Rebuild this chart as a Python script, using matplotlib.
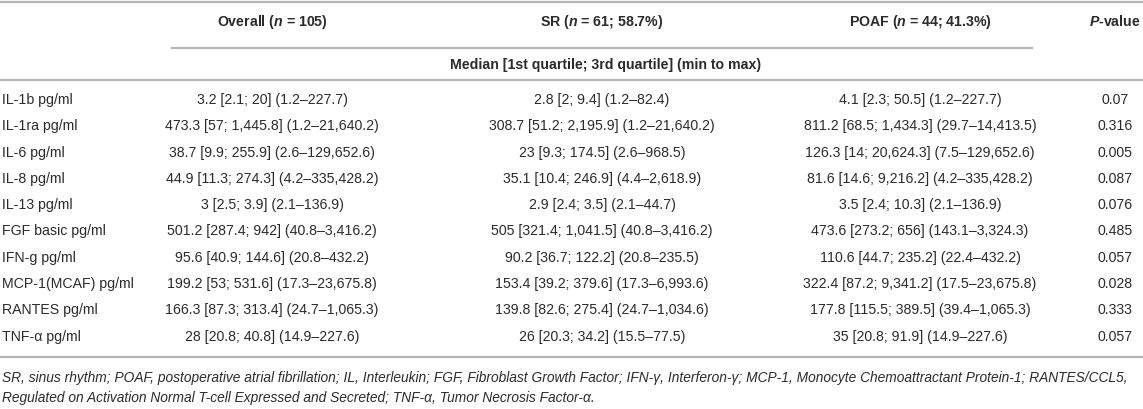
import matplotlib
matplotlib.use("Agg")
import matplotlib.pyplot as plt
from matplotlib.lines import Line2D

plt.rcParams['font.family'] = ['Liberation Sans', 'DejaVu Sans']
plt.rcParams['mathtext.fontset'] = 'custom'
plt.rcParams['mathtext.bfit'] = 'Liberation Sans:italic:bold'

markers = ["IL-1b pg/ml", "IL-1ra pg/ml", "IL-6 pg/ml", "IL-8 pg/ml", "IL-13 pg/ml",
           "FGF basic pg/ml", "IFN-g pg/ml", "MCP-1(MCAF) pg/ml", "RANTES pg/ml", "TNF-\u03b1 pg/ml"]
overall = ["3.2 [2.1; 20] (1.2\u2013227.7)",
           "473.3 [57; 1,445.8] (1.2\u201321,640.2)",
           "38.7 [9.9; 255.9] (2.6\u2013129,652.6)",
           "44.9 [11.3; 274.3] (4.2\u2013335,428.2)",
           "3 [2.5; 3.9] (2.1\u2013136.9)",
           "501.2 [287.4; 942] (40.8\u20133,416.2)",
           "95.6 [40.9; 144.6] (20.8\u2013432.2)",
           "199.2 [53; 531.6] (17.3\u201323,675.8)",
           "166.3 [87.3; 313.4] (24.7\u20131,065.3)",
           "28 [20.8; 40.8] (14.9\u2013227.6)"]
sr = ["2.8 [2; 9.4] (1.2\u201382.4)",
      "308.7 [51.2; 2,195.9] (1.2\u201321,640.2)",
      "23 [9.3; 174.5] (2.6\u2013968.5)",
      "35.1 [10.4; 246.9] (4.4\u20132,618.9)",
      "2.9 [2.4; 3.5] (2.1\u201344.7)",
      "505 [321.4; 1,041.5] (40.8\u20133,416.2)",
      "90.2 [36.7; 122.2] (20.8\u2013235.5)",
      "153.4 [39.2; 379.6] (17.3\u20136,993.6)",
      "139.8 [82.6; 275.4] (24.7\u20131,034.6)",
      "26 [20.3; 34.2] (15.5\u201377.5)"]
poaf = ["4.1 [2.3; 50.5] (1.2\u2013227.7)",
        "811.2 [68.5; 1,434.3] (29.7\u201314,413.5)",
        "126.3 [14; 20,624.3] (7.5\u2013129,652.6)",
        "81.6 [14.6; 9,216.2] (4.2\u2013335,428.2)",
        "3.5 [2.4; 10.3] (2.1\u2013136.9)",
        "473.6 [273.2; 656] (143.1\u20133,324.3)",
        "110.6 [44.7; 235.2] (22.4\u2013432.2)",
        "322.4 [87.2; 9,341.2] (17.5\u201323,675.8)",
        "177.8 [115.5; 389.5] (39.4\u20131,065.3)",
        "35 [20.8; 91.9] (14.9\u2013227.6)"]
pvals = ["0.07", "0.316", "0.005", "0.087", "0.076", "0.485", "0.057", "0.028", "0.333", "0.057"]

headers = ["Overall ($\\mathbfit{n}$ = 105)", "SR ($\\mathbfit{n}$ = 61; 58.7%)",
           "POAF ($\\mathbfit{n}$ = 44; 41.3%)", "$\\mathbfit{P}$-value"]
subheader = "Median [1st quartile; 3rd quartile] (min to max)"
footnote = ["SR, sinus rhythm; POAF, postoperative atrial fibrillation; IL, Interleukin; FGF, Fibroblast Growth Factor; "
            "IFN-\u03b3, Interferon-\u03b3; MCP-1, Monocyte Chemoattractant Protein-1; RANTES/CCL5,",
            "Regulated on Activation Normal T-cell Expressed and Secreted; TNF-\u03b1, Tumor Necrosis Factor-\u03b1."]

W, H = 1143, 410
fig = plt.figure(figsize=(W / 100, H / 100), dpi=100)

txt_color = '#2b2b2b'
line_color = '#b5b5b5'
fs = 10.2

def px(x, y):
    return x / W, 1 - y / H

def hline(x0, x1, y):
    a, b = px(x0, y)
    c, _ = px(x1, y)
    fig.add_artist(Line2D([a, c], [b, b], color=line_color, lw=1.6))

col_x = [272, 602, 920, 1115]

# header block
hline(0, W, 3)
for x, h in zip(col_x, headers):
    fig.text(*px(x, 22), h, ha='center', va='center', fontsize=fs, fontweight='bold', color=txt_color)
hline(172, 1032, 49)
fig.text(*px(606, 65), subheader, ha='center', va='center', fontsize=fs, fontweight='bold', color=txt_color)
hline(0, W, 81)

# body rows
y0, dy = 100, 26.3
for i in range(len(markers)):
    y = y0 + i * dy
    fig.text(*px(2, y), markers[i], ha='left', va='center', fontsize=fs, color=txt_color)
    for x, col in zip(col_x, [overall, sr, poaf, pvals]):
        fig.text(*px(x, y), col[i], ha='center', va='center', fontsize=fs, color=txt_color)

# footnote
hline(0, W, 358)
for j, line in enumerate(footnote):
    fig.text(*px(2, 378 + j * 20), line, ha='left', va='center', fontsize=9.9,
             style='italic', color=txt_color)

fig.savefig("out.png", dpi=100, facecolor='white')
